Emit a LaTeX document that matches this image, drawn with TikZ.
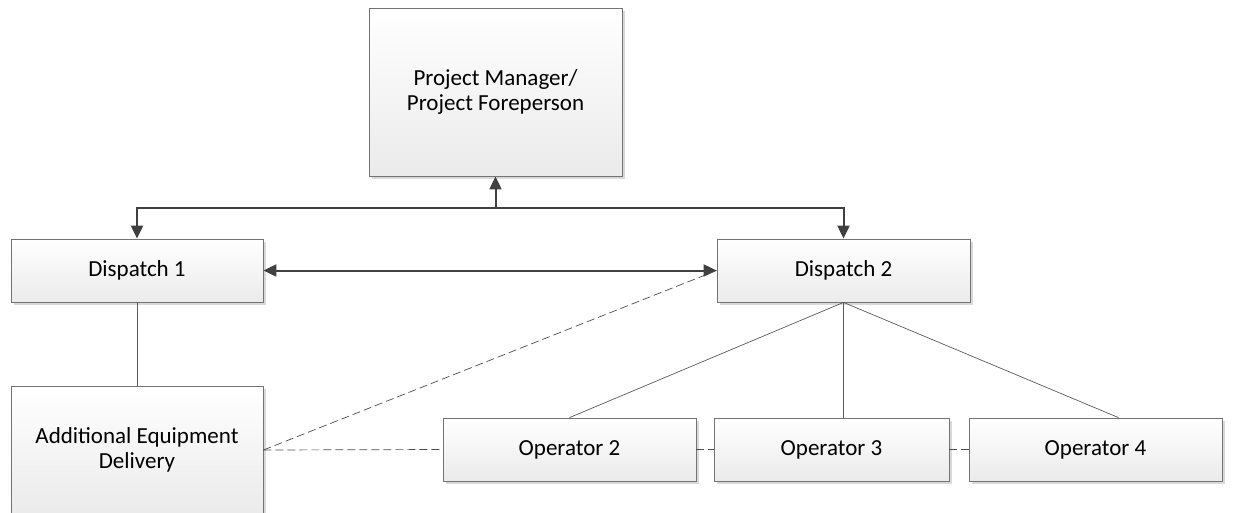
\documentclass[tikz,border=0pt]{standalone}
\usepackage{fontspec}
\setmainfont{Carlito}
\usetikzlibrary{arrows.meta,shadows}

\tikzset{
  unit/.style={draw=black!55, line width=0.8pt, top color=white, bottom color=black!8,
    drop shadow={fill=black!25, opacity=0.6, shadow xshift=3pt, shadow yshift=-3pt},
    align=center, font=\fontsize{23}{25}\selectfont, inner sep=0pt},
  link/.style={draw=black!75, line width=2pt, -{Triangle[length=13pt,width=12pt]}},
  tie/.style={draw=black!65, line width=0.7pt},
  dashtie/.style={draw=black!70, line width=0.7pt, dash pattern=on 8pt off 4pt},
}

\begin{document}
\begin{tikzpicture}[x=1pt,y=-1pt]
				\useasboundingbox (0,0) rectangle (1243,512);
				\node[unit, minimum width=253pt, minimum height=168pt] (PM) at (495.5, 92) {Project Manager/\\Project Foreperson};
				\node[unit, minimum width=252pt, minimum height=63pt] (D1) at (137, 270.5) {Dispatch 1};
				\node[unit, minimum width=253pt, minimum height=63pt] (D2) at (843.5, 270.5) {Dispatch 2};
				\node[unit, minimum width=252pt, minimum height=128pt] (AED) at (137, 450) {Additional Equipment\\Delivery};
				\node[unit, minimum width=253pt, minimum height=63pt] (OP2) at (569.5, 449.5) {Operator 2};
				\node[unit, minimum width=235pt, minimum height=63pt] (OP3) at (831.5, 449.5) {Operator 3};
				\node[unit, minimum width=253pt, minimum height=63pt] (OP4) at (1095.5, 449.5) {Operator 4};
				\coordinate (bus) at (PM.south |- 0, 208);
				\draw[link, {Triangle[length=13pt,width=12pt]}-{Triangle[length=13pt,width=12pt]}] (D1.north) |- (bus) -| (D2.north);
				\draw[link] (bus) -- (PM.south);
				\draw[link, {Triangle[length=13pt,width=12pt]}-{Triangle[length=13pt,width=12pt]}] (D1.east) -- (D2.west);
				\draw[tie] (D1.south) -- (AED.north);
				\draw[tie] (D2.south) -- (OP2.north);
				\draw[tie] (D2.south) -- (D2.south |- OP3.north);
				\draw[tie] (D2.south) -- ([xshift=23pt]OP4.north);
				\draw[dashtie] (AED.east) -- (D2.west);
				\draw[dashtie] (AED.east) -- (OP2.west);
				\draw[dashtie] (OP2.east) -- (OP3.west);
				\draw[dashtie] (OP3.east) -- (OP4.west);
\end{tikzpicture}
\end{document}
